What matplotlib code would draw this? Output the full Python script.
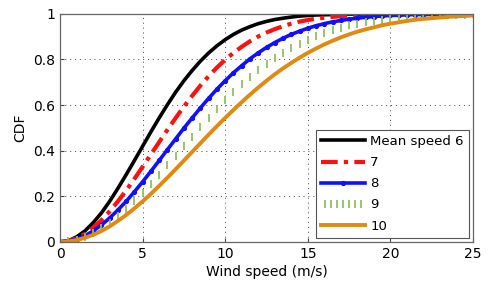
import numpy as np
import matplotlib
matplotlib.use('Agg')
import matplotlib.pyplot as plt
from matplotlib.legend_handler import HandlerLine2D

# wind speed grid (m/s), one sample every 0.5 m/s
wind_speed = np.linspace(0, 25, 51)

# CDF values for each mean speed
cdf_6 = [0, 0.005, 0.022, 0.048, 0.084, 0.127, 0.178, 0.235, 0.295, 0.357,
         0.420, 0.483, 0.544, 0.602, 0.657, 0.707, 0.752, 0.793, 0.829, 0.860,
         0.887, 0.910, 0.929, 0.944, 0.957, 0.967, 0.975, 0.981, 0.986, 0.990,
         0.993, 0.995, 0.996, 0.997, 0.998, 0.999, 0.999, 1.0, 1.0, 1.0,
         1.0, 1.0, 1.0, 1.0, 1.0, 1.0, 1.0, 1.0, 1.0, 1.0, 1.0]
cdf_7 = [0, 0.004, 0.016, 0.035, 0.062, 0.095, 0.134, 0.178, 0.226, 0.277,
         0.330, 0.384, 0.438, 0.492, 0.544, 0.594, 0.641, 0.686, 0.727, 0.765,
         0.799, 0.829, 0.856, 0.880, 0.901, 0.918, 0.933, 0.946, 0.957, 0.966,
         0.973, 0.979, 0.983, 0.987, 0.990, 0.993, 0.994, 0.996, 0.997, 0.998,
         0.998, 0.999, 0.999, 1.0, 1.0, 1.0, 1.0, 1.0, 1.0, 1.0, 1.0]
cdf_8 = [0, 0.003, 0.012, 0.027, 0.048, 0.074, 0.105, 0.140, 0.178, 0.220,
         0.264, 0.310, 0.357, 0.405, 0.452, 0.499, 0.544, 0.588, 0.630, 0.670,
         0.707, 0.742, 0.773, 0.803, 0.829, 0.853, 0.874, 0.893, 0.910, 0.924,
         0.937, 0.948, 0.957, 0.965, 0.971, 0.977, 0.981, 0.985, 0.988, 0.991,
         0.993, 0.994, 0.996, 0.997, 0.997, 0.998, 0.998, 0.999, 0.999, 0.999, 1.0]
cdf_9 = [0, 0.002, 0.010, 0.022, 0.038, 0.059, 0.084, 0.112, 0.144, 0.178,
         0.215, 0.254, 0.295, 0.336, 0.378, 0.420, 0.462, 0.504, 0.544, 0.583,
         0.621, 0.657, 0.691, 0.723, 0.752, 0.780, 0.806, 0.829, 0.850, 0.870,
         0.887, 0.903, 0.916, 0.929, 0.939, 0.949, 0.957, 0.964, 0.970, 0.975,
         0.979, 0.983, 0.986, 0.989, 0.991, 0.993, 0.994, 0.995, 0.996, 0.997, 0.998]
cdf_10 = [0, 0.002, 0.008, 0.018, 0.031, 0.048, 0.068, 0.092, 0.118, 0.147,
          0.178, 0.211, 0.246, 0.282, 0.319, 0.357, 0.395, 0.433, 0.471, 0.508,
          0.544, 0.579, 0.613, 0.646, 0.677, 0.707, 0.735, 0.761, 0.785, 0.808,
          0.829, 0.848, 0.866, 0.882, 0.897, 0.910, 0.922, 0.932, 0.941, 0.950,
          0.957, 0.963, 0.969, 0.974, 0.978, 0.981, 0.984, 0.987, 0.989, 0.991, 0.993]

labels = ['Mean speed 6', '7', '8', '9', '10']

fig = plt.figure(figsize=(4.89, 2.95), dpi=100)
ax = fig.add_axes([0.123, 0.180, 0.844, 0.773])

ax.plot(wind_speed, cdf_6, color='black', lw=2.6, label=labels[0])
ax.plot(wind_speed, cdf_7, color='#ff1010', lw=3.0, ls=(0, (4, 1.5, 1, 1.5)), label=labels[1])
ax.plot(wind_speed, cdf_8, color='#1010ff', lw=2.6, marker='.', ms=5.5, label=labels[2])
green, = ax.plot(wind_speed, cdf_9, color='#8fc060', ls='none', marker='|', ms=6, mew=1.3,
                 label=labels[3])
ax.plot(wind_speed, cdf_10, color='#e08a12', lw=2.8, label=labels[4])

ax.set_xlim(0, 25)
ax.set_ylim(0, 1)
ax.set_xticks([0, 5, 10, 15, 20, 25])
ax.set_yticks([0, 0.2, 0.4, 0.6, 0.8, 1])
ax.set_yticklabels(['0', '0.2', '0.4', '0.6', '0.8', '1'])
ax.tick_params(direction='in', labelsize=10, length=3, color='#444444')
ax.grid(True, ls=(0, (1, 4)), color='#444444', lw=0.7)
for s in ax.spines.values():
    s.set_color('#666666')
    s.set_linewidth(0.9)

ax.set_xlabel('Wind speed (m/s)', fontsize=10, labelpad=3)
ax.set_ylabel('CDF', fontsize=10)

leg = ax.legend(loc='lower right', fontsize=9.5, fancybox=False, framealpha=1,
                edgecolor='#555555', handlelength=3.3, borderaxespad=0.3,
                labelspacing=0.62, handletextpad=0.4,
                handler_map={green: HandlerLine2D(numpoints=7)})
leg.get_frame().set_linewidth(0.8)

fig.savefig('out.png', dpi=100)
